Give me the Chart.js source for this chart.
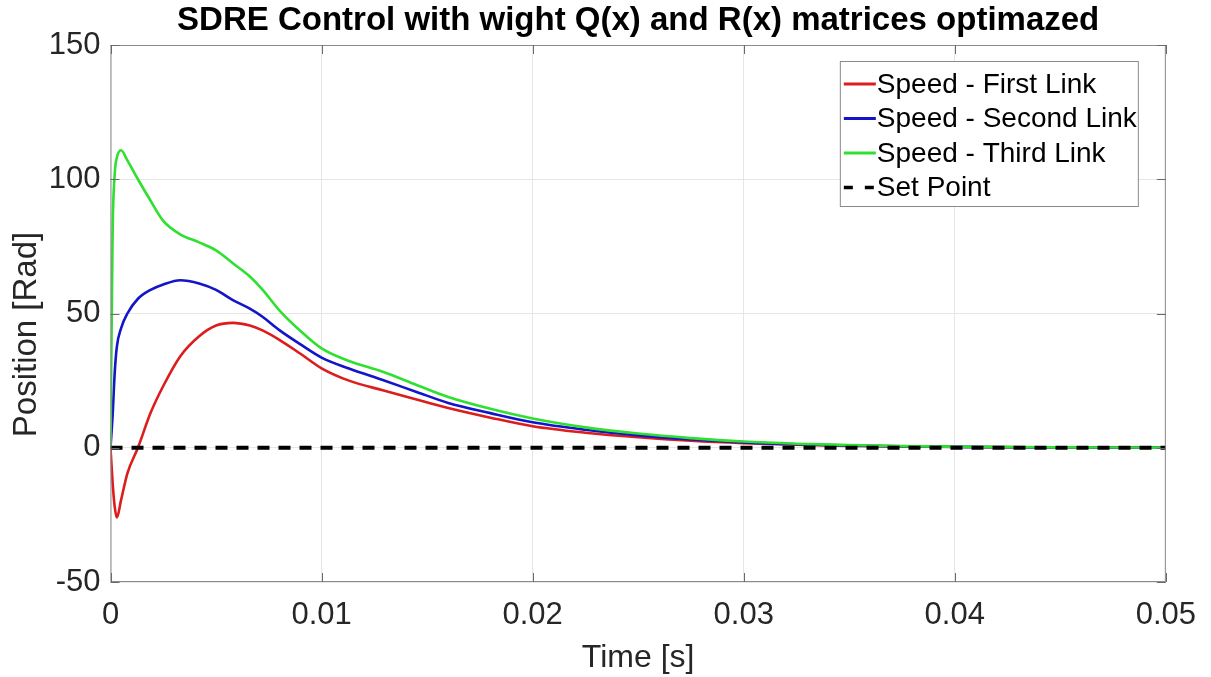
<!DOCTYPE html>
<html>
<head>
<meta charset="utf-8">
<title>SDRE Control</title>
<script src="https://cdn.jsdelivr.net/npm/chart.js@4.4.0/dist/chart.umd.min.js"></script>
<style>
  html, body { margin: 0; padding: 0; background: #fff; }
  #wrap { width: 1211px; height: 677px; }
</style>
</head>
<body>
<div id="wrap"><canvas id="sdreChart" width="1211" height="677"></canvas></div>
<script>
// values
const timeS = [0, 0.0001, 0.0002, 0.0003, 0.0005, 0.0008, 0.0013, 0.0019, 0.0025, 0.0033,
  0.0042, 0.005, 0.0058, 0.0066, 0.0072, 0.008, 0.009, 0.01, 0.0113, 0.0129,
  0.0145, 0.016, 0.018, 0.02, 0.0225, 0.025, 0.0275, 0.03, 0.0325, 0.035,
  0.0375, 0.04, 0.045, 0.05];
const speedFirst = [0, -13, -22, -26, -19.5, -9.5, 0, 13, 23, 34,
  41.5, 45.5, 46.5, 45.5, 43.7, 40.2, 35, 29.6, 25, 21.4,
  18, 14.8, 11.2, 8.0, 5.6, 3.9, 2.6, 1.7, 1.1, 0.7,
  0.45, 0.28, 0.1, 0.03];
const speedSecond = [0, 12, 28, 37.6, 44.5, 50, 55.5, 58.8, 60.8, 62.4,
  61.2, 58.8, 55, 51.8, 48.8, 43.8, 38.5, 33.6, 29.5, 25.2,
  20.8, 16.7, 12.9, 9.5, 6.7, 4.6, 3.1, 2.0, 1.3, 0.85,
  0.5, 0.33, 0.12, 0.04];
const speedThird = [0, 80, 102, 108, 110.8, 107, 100, 92, 84.5, 79.5,
  76.5, 73.5, 68.7, 63.8, 58.9, 51.2, 43.5, 37, 32.3, 28.3,
  23.4, 18.9, 14.5, 10.9, 7.6, 5.3, 3.6, 2.3, 1.5, 1.0,
  0.6, 0.4, 0.15, 0.05];
const setPointTime = [0, 0.05];
const setPointValue = [0, 0];
const xTickValues = [0, 0.01, 0.02, 0.03, 0.04, 0.05];
const yTickValues = [-50, 0, 50, 100, 150];
const seriesLabels = ['Speed - First Link', 'Speed - Second Link', 'Speed - Third Link', 'Set Point'];
const seriesColors = ['#dd1c1c', '#1414c8', '#30e030', '#000000'];
const yAxisTitle = 'Position [Rad]';

const FONT = "'Liberation Sans', Arial, Helvetica, sans-serif";
Chart.defaults.font.family = FONT;
Chart.defaults.color = '#262626';

function toPoints(xs, ys) {
  return xs.map((x, i) => ({ x: x, y: ys[i] }));
}

function fmtTick(v) {
  return String(+v.toFixed(3));
}

// box around the axes, inward tick marks, y label and the legend inside the plot
const matlabAxes = {
  id: 'matlabAxes',
  afterDraw(chart) {
    const ctx = chart.ctx;
    const a = chart.chartArea;
    const xs = chart.scales.x;
    const ys = chart.scales.y;
    ctx.save();

    ctx.strokeStyle = '#8a8a8a';
    ctx.lineWidth = 1;
    ctx.strokeRect(a.left + 0.5, a.top + 0.5, a.right - a.left - 1, a.bottom - a.top - 1);

    ctx.strokeStyle = '#6a6a6a';
    ctx.beginPath();
    xTickValues.forEach(v => {
      const px = Math.round(xs.getPixelForValue(v)) + 0.5;
      ctx.moveTo(px, a.bottom); ctx.lineTo(px, a.bottom - 9);
      ctx.moveTo(px, a.top); ctx.lineTo(px, a.top + 9);
    });
    yTickValues.forEach(v => {
      const py = Math.round(ys.getPixelForValue(v)) + 0.5;
      ctx.moveTo(a.left, py); ctx.lineTo(a.left + 9, py);
      ctx.moveTo(a.right, py); ctx.lineTo(a.right - 9, py);
    });
    ctx.stroke();

    // y axis label, sitting a bit below the axis middle like the original
    ctx.save();
    ctx.translate(27, (a.top + a.bottom) / 2 + 21);
    ctx.rotate(-Math.PI / 2);
    ctx.font = '33px ' + FONT;
    ctx.fillStyle = '#262626';
    ctx.textAlign = 'center';
    ctx.textBaseline = 'middle';
    ctx.fillText(yAxisTitle, 0, 0);
    ctx.restore();

    // legend
    const bx = a.right - 326, by = a.top + 16, bw = 298, bh = 145;
    ctx.fillStyle = '#ffffff';
    ctx.fillRect(bx, by, bw, bh);
    ctx.strokeStyle = '#8a8a8a';
    ctx.lineWidth = 1;
    ctx.strokeRect(bx + 0.5, by + 0.5, bw, bh);
    ctx.font = '28px ' + FONT;
    ctx.textBaseline = 'middle';
    ctx.textAlign = 'left';
    chart.data.datasets.forEach((ds, i) => {
      const cy = by + 23 + i * 34.5;
      ctx.strokeStyle = ds.borderColor;
      ctx.lineWidth = ds.borderDash ? 3.5 : 3;
      ctx.setLineDash(ds.borderDash ? [9, 12] : []);
      ctx.beginPath();
      ctx.moveTo(bx + 4, cy);
      ctx.lineTo(bx + 36, cy);
      ctx.stroke();
      ctx.setLineDash([]);
      ctx.fillStyle = '#000000';
      ctx.fillText(ds.label, bx + 37, cy + 1);
    });
    ctx.restore();
  }
};

const lineStyle = {
  pointRadius: 0,
  borderWidth: 2.6,
  fill: false,
  cubicInterpolationMode: 'monotone'
};

new Chart(document.getElementById('sdreChart'), {
  type: 'line',
  data: {
    datasets: [
      Object.assign({ label: seriesLabels[0], data: toPoints(timeS, speedFirst), borderColor: seriesColors[0], order: 3 }, lineStyle),
      Object.assign({ label: seriesLabels[1], data: toPoints(timeS, speedSecond), borderColor: seriesColors[1], order: 2 }, lineStyle),
      Object.assign({ label: seriesLabels[2], data: toPoints(timeS, speedThird), borderColor: seriesColors[2], order: 1 }, lineStyle),
      {
        label: seriesLabels[3],
        data: toPoints(setPointTime, setPointValue),
        borderColor: seriesColors[3],
        borderWidth: 4,
        borderDash: [12, 9],
        pointRadius: 0,
        fill: false,
        order: 0
      }
    ]
  },
  options: {
    responsive: false,
    animation: false,
    layout: { padding: { left: 0, right: 43, top: 0, bottom: 0 } },
    plugins: {
      legend: { display: false },
      tooltip: { enabled: false },
      title: {
        display: true,
        fullSize: false,
        text: 'SDRE Control with wight Q(x) and R(x) matrices optimazed',
        color: '#000000',
        font: { size: 33, weight: 'bold', lineHeight: 1.2 },
        padding: { top: 1, bottom: 4.4 }
      }
    },
    scales: {
      x: {
        type: 'linear',
        min: 0,
        max: 0.05,
        afterBuildTicks: s => { s.ticks = xTickValues.map(v => ({ value: v })); },
        afterFit: s => { s.height = 95; },
        grid: { color: '#e6e6e6', drawTicks: false },
        border: { display: false },
        ticks: { padding: 15, font: { size: 31 }, callback: v => fmtTick(v), maxRotation: 0 },
        title: { display: true, text: 'Time [s]', font: { size: 32 }, padding: { top: 0, bottom: 0 } }
      },
      y: {
        min: -50,
        max: 150,
        afterBuildTicks: s => { s.ticks = yTickValues.map(v => ({ value: v })); },
        afterFit: s => { s.width = 110.5; },
        grid: { color: '#e6e6e6', drawTicks: false },
        border: { display: false },
        ticks: { padding: 10, font: { size: 31 }, callback: v => fmtTick(v) },
        title: { display: false }
      }
    }
  },
  plugins: [matlabAxes]
});
</script>
</body>
</html>
